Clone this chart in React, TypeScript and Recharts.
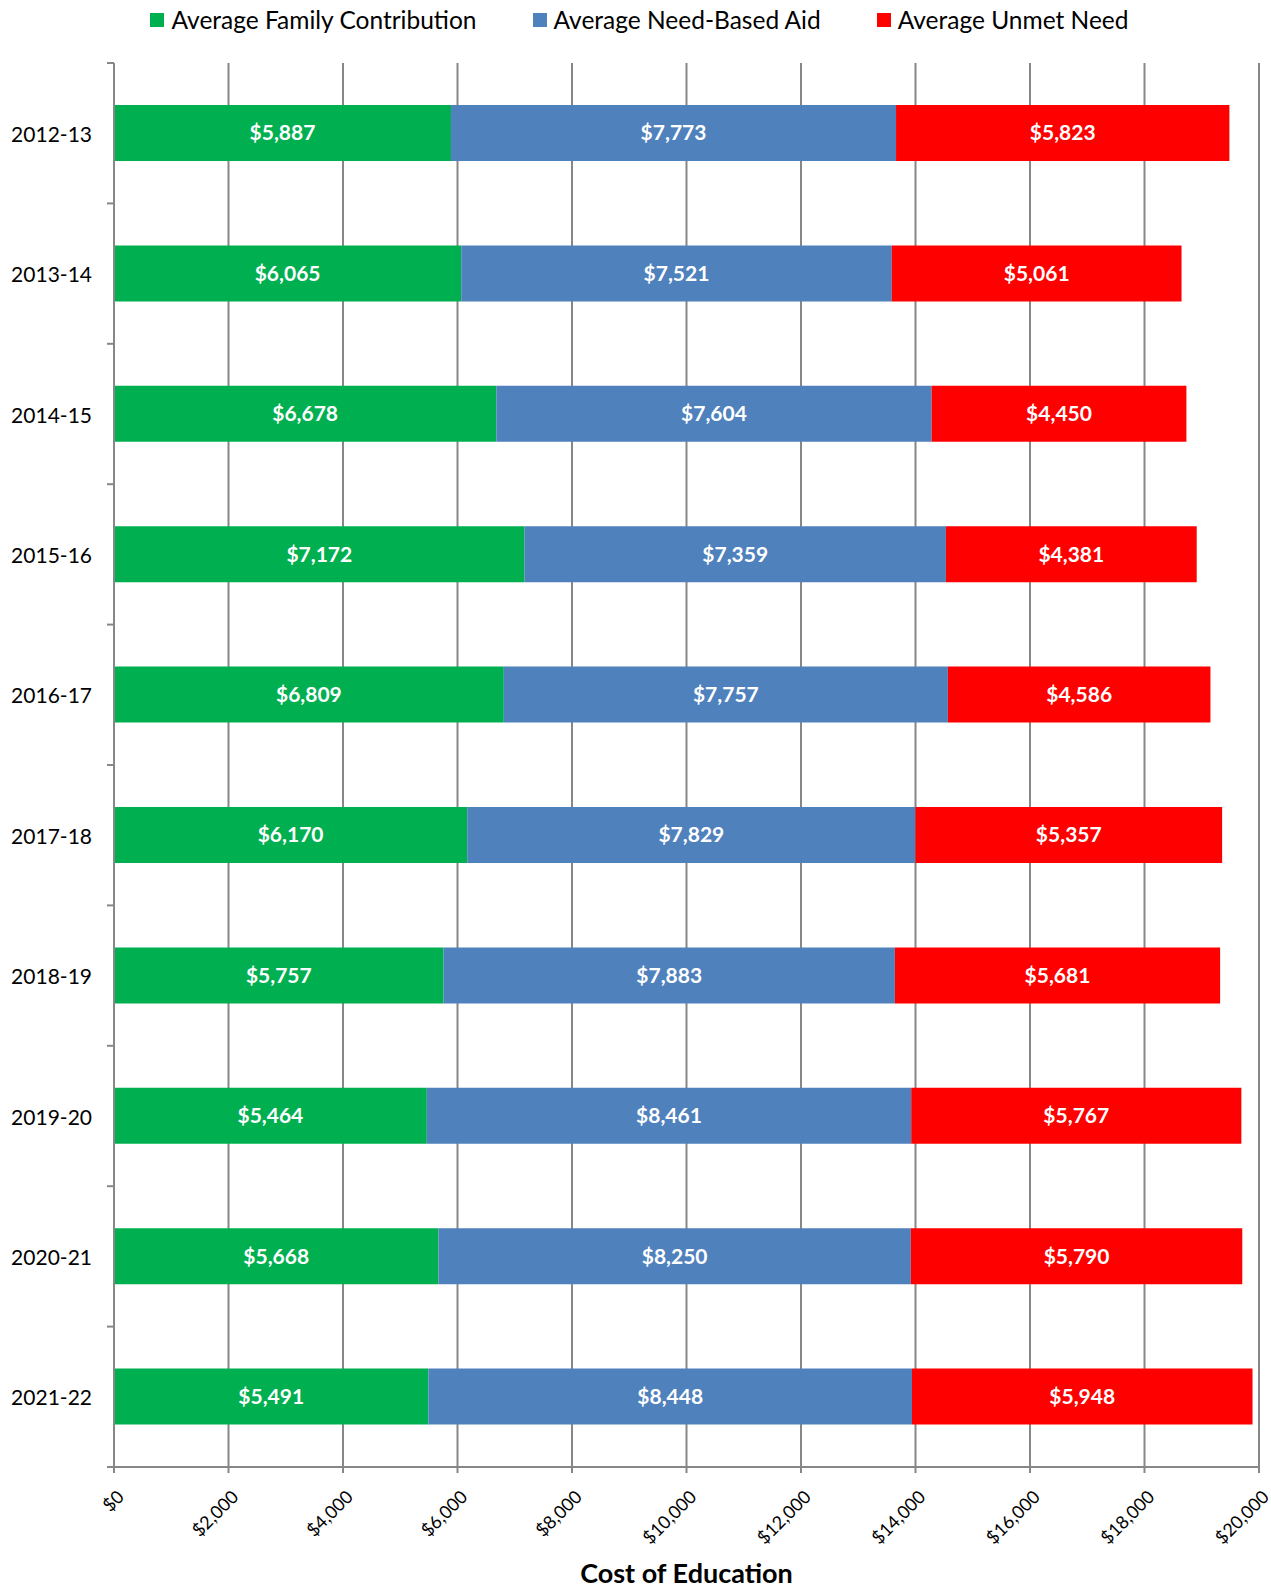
import React from "react";
import {
  Bar,
  BarChart,
  CartesianGrid,
  LabelList,
  Legend,
  XAxis,
  YAxis,
} from "recharts";

const years = ["2012-13", "2013-14", "2014-15", "2015-16", "2016-17", "2017-18", "2018-19", "2019-20", "2020-21", "2021-22"];
const familyContribution = [5887, 6065, 6678, 7172, 6809, 6170, 5757, 5464, 5668, 5491];
const needBasedAid = [7773, 7521, 7604, 7359, 7757, 7829, 7883, 8461, 8250, 8448];
const unmetNeed = [5823, 5061, 4450, 4381, 4586, 5357, 5681, 5767, 5790, 5948];
const xTicks = [0, 2000, 4000, 6000, 8000, 10000, 12000, 14000, 16000, 18000, 20000];

const data = years.map((year, i) => ({
  year,
  family: familyContribution[i],
  aid: needBasedAid[i],
  unmet: unmetNeed[i],
}));

const FONT = "Lato, 'Open Sans', sans-serif";
const GRID = "#878787";
const money = (v: number) => "$" + Number(v).toLocaleString("en-US");

const series = [
  { key: "family", name: "Average Family Contribution", color: "#00B050" },
  { key: "aid", name: "Average Need-Based Aid", color: "#4F81BD" },
  { key: "unmet", name: "Average Unmet Need", color: "#FF0000" },
];

function LegendRow() {
  return (
    <div style={{ display: "flex", justifyContent: "center", gap: 56, fontFamily: FONT, fontSize: 24.5, color: "#000", lineHeight: "28px", paddingLeft: 8 }}>
      {series.map((s) => (
        <div key={s.key} style={{ display: "flex", alignItems: "center" }}>
          <span style={{ width: 14, height: 14, background: s.color, marginRight: 7, display: "inline-block" }} />
          <span>{s.name}</span>
        </div>
      ))}
    </div>
  );
}

function YTick(props: any) {
  const { x, y, payload, index, visibleTicksCount } = props;
  const half = payload?.offset ?? 70;
  const axisX = x + 8;
  return (
    <g>
      <line x1={axisX - 7} x2={axisX} y1={y - half} y2={y - half} stroke={GRID} strokeWidth={2} />
      {index === visibleTicksCount - 1 && (
        <line x1={axisX - 7} x2={axisX} y1={y + half} y2={y + half} stroke={GRID} strokeWidth={2} />
      )}
      <text x={x - 14} y={y} textAnchor="end" dominantBaseline="central" fontFamily={FONT} fontSize={21} fill="#000">
        {payload.value}
      </text>
    </g>
  );
}

// rotated dollar labels, top-right corner sits just under the tick
function XTick(props: any) {
  const { x, y, payload } = props;
  return (
    <g transform={`translate(${x + 2}, ${y + 14})`}>
      <text x={0} y={0} dy="0.71em" textAnchor="end" transform="rotate(-45)" fontFamily={FONT} fontSize={18} fill="#000">
        {money(payload.value)}
      </text>
    </g>
  );
}

export default function App() {
  return (
    <div style={{ position: "absolute", left: 0, top: 0, width: 1271, height: 1587, background: "#fff" }}>
      <BarChart
        width={1271}
        height={1587}
        data={data}
        layout="vertical"
        barSize={56}
        margin={{ top: 35, right: 12, left: 0, bottom: 0 }}
      >
        <Legend verticalAlign="top" wrapperStyle={{ top: 6, left: 0, width: 1271 }} content={() => <LegendRow />} />
        <CartesianGrid vertical horizontal={false} stroke={GRID} strokeWidth={2} />
        <XAxis
          type="number"
          domain={[0, 20000]}
          ticks={xTicks}
          allowDataOverflow
          height={120}
          axisLine={{ stroke: GRID, strokeWidth: 2 }}
          tickLine={{ stroke: GRID, strokeWidth: 2 }}
          tickSize={6}
          tick={<XTick />}
          interval={0}
          label={{
            value: "Cost of Education",
            position: "insideBottom",
            offset: 4,
            style: { fontFamily: FONT, fontSize: 27, fontWeight: 700, fill: "#000" },
          }}
        />
        <YAxis
          type="category"
          dataKey="year"
          width={114}
          axisLine={{ stroke: GRID, strokeWidth: 2 }}
          tickLine={false}
          tick={<YTick />}
          interval={0}
        />
        {series.map((s) => (
          <Bar key={s.key} dataKey={s.key} name={s.name} stackId="cost" fill={s.color} isAnimationActive={false}>
            <LabelList
              dataKey={s.key}
              position="center"
              formatter={(v: any) => money(v)}
              style={{ fill: "#fff", fontFamily: FONT, fontSize: 21, fontWeight: 700 }}
            />
          </Bar>
        ))}
      </BarChart>
    </div>
  );
}
